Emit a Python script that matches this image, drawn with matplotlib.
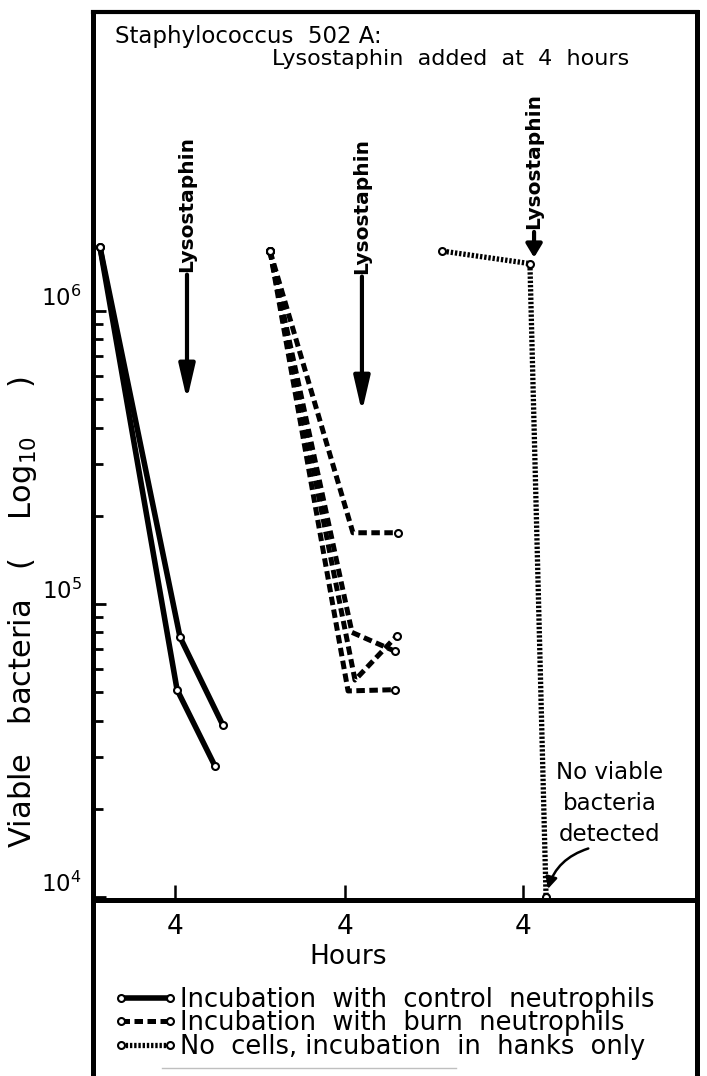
import matplotlib
matplotlib.use("Agg")
import matplotlib.pyplot as plt
from matplotlib.lines import Line2D
from matplotlib import ticker

plt.rcParams['font.family'] = ['DejaVu Sans']

# three panels on one time axis, each panel has its own clock
panel_offset = [0.0, 9.07, 18.56]
tick_hours = [4, 4, 4]
tick_labels = ['4', '4', '4']

# control neutrophils (panel 0)
ctrl_a_h = [0, 4.27, 6.56]
ctrl_a = [1.65e6, 7.7e4, 3.85e4]
ctrl_b_h = [0, 4.11, 6.13]
ctrl_b = [1.65e6, 5.1e4, 2.8e4]

# burn neutrophils (panel 1)
burn_a_h = [0, 4.42, 6.82]
burn_a = [1.6e6, 1.75e5, 1.75e5]
burn_b_h = [0, 4.37, 6.66]
burn_b = [1.6e6, 8.0e4, 6.9e4]
burn_c_h = [0, 4.53, 6.77]
burn_c = [1.6e6, 5.5e4, 7.8e4]
burn_d_h = [0, 4.16, 6.66]
burn_d = [1.6e6, 5.05e4, 5.1e4]

# no cells, hanks only (panel 2)
hanks_h = [-0.3, 4.37, 5.23]
hanks = [1.6e6, 1.45e6, 1.0e4]

# lysostaphin arrows per panel: hour, arrow tip, arrow tail
lyso_h = [4.64, 4.9, 4.59]
lyso_tip = [4.97e5, 4.52e5, 1.52e6]
lyso_tail = [1.33e6, 1.31e6, 1.86e6]

legend_labels = ['Incubation  with  control  neutrophils',
                 'Incubation  with  burn  neutrophils',
                 'No  cells, incubation  in  hanks  only']

solid = dict(color='k', lw=4, ls='-')
dashed = dict(color='k', lw=3.6, ls=(0, (1.7, 0.9)))
dotted = dict(color='k', lw=3.8, ls=(0, (0.45, 0.35)))
mk = dict(marker='o', ms=5, mfc='white', mec='k', mew=1.5)

fig = plt.figure(figsize=(7.07, 10.76), dpi=100)
ax = fig.add_axes([93 / 707, 1 - 900 / 1076, 604 / 707, 888 / 1076])

def shift(hours, panel):
    return [h + panel_offset[panel] for h in hours]

for h, v in [(ctrl_a_h, ctrl_a), (ctrl_b_h, ctrl_b)]:
    ax.plot(shift(h, 0), v, **solid, **mk)
for h, v in [(burn_a_h, burn_a), (burn_b_h, burn_b), (burn_c_h, burn_c), (burn_d_h, burn_d)]:
    ax.plot(shift(h, 1), v, markevery=[0, 2], **dashed, **mk)
ax.plot(shift(hanks_h, 2), hanks, clip_on=False, **dotted, **mk)

ax.set_yscale('log')
ax.set_ylim(9.77e3, 1.047e7)
ax.set_xlim(-0.373, 31.84)

ax.yaxis.set_major_locator(ticker.FixedLocator([1e4, 1e5, 1e6]))
ax.yaxis.set_minor_locator(ticker.FixedLocator([m * d for d in (1e4, 1e5) for m in range(2, 10)]))
ax.yaxis.set_minor_formatter(ticker.NullFormatter())
ax.set_yticklabels([r'$10^4$', r'$10^5$', r'$10^6$'])
for lbl in ax.get_yticklabels():
    lbl.set_verticalalignment('bottom')
ax.tick_params(axis='y', which='major', direction='in', length=9, width=2, labelsize=16.5, pad=8)
ax.tick_params(axis='y', which='minor', direction='in', length=7, width=2)

ax.set_xticks([t + o for t, o in zip(tick_hours, panel_offset)])
ax.set_xticklabels(tick_labels)
ax.tick_params(axis='x', direction='in', length=11, width=1.8, labelsize=19, pad=10)

for side in ['left', 'right', 'bottom']:
    ax.spines[side].set_linewidth(3.6)
ax.spines['top'].set_linewidth(3.0)

ax.set_ylabel(r'Viable   bacteria   (    Log$_{10}$     )', fontsize=22)
ax.yaxis.set_label_coords(-0.09, 0.324)
ax.set_xlabel('Hours', fontsize=19)
ax.xaxis.set_label_coords((348 - 93) / 604, -0.05)

# lysostaphin additions
for i in range(3):
    x = lyso_h[i] + panel_offset[i]
    big = i < 2
    ax.annotate('', xy=(x, lyso_tip[i]), xytext=(x, lyso_tail[i]),
                arrowprops=dict(arrowstyle='-|>,head_length=%s,head_width=%s' % ((0.95, 0.22) if big else (0.5, 0.3)),
                                lw=3, color='k', mutation_scale=22 if big else 16,
                                shrinkA=0, shrinkB=0))
    ax.annotate('Lysostaphin', xy=(x, lyso_tail[i]), xytext=(0, 2), textcoords='offset points',
                rotation=90, ha='center', va='bottom', fontsize=14.5, fontweight='bold')

ax.text(0.856, 0.109, 'No viable\nbacteria\ndetected', transform=ax.transAxes,
        ha='center', va='center', fontsize=16.5, linespacing=1.45)
ax.annotate('', xy=(hanks_h[2] + panel_offset[2], hanks[2]), xytext=(0.82, 0.058),
            textcoords='axes fraction',
            arrowprops=dict(arrowstyle='-|>,head_length=0.5,head_width=0.25', lw=1.8, color='k',
                            mutation_scale=14, shrinkA=0, shrinkB=6,
                            connectionstyle='arc3,rad=0.3'))

fig.text(115 / 707, 1 - 37 / 1076, 'Staphylococcus  502 A:', fontsize=16.5, va='center')
fig.text(272 / 707, 1 - 59 / 1076, 'Lysostaphin  added  at  4  hours', fontsize=16, va='center')

# box continues below the plot around the legend
for xp in (93, 697):
    fig.add_artist(Line2D([xp / 707, xp / 707], [0, 1 - 900 / 1076], transform=fig.transFigure,
                          color='k', lw=3.6))
fig.add_artist(Line2D([162 / 707, 456 / 707], [1 - 1068 / 1076] * 2, transform=fig.transFigure,
                      color='0.75', lw=1))

handles = [Line2D([], [], **solid, **mk), Line2D([], [], **dashed, **mk), Line2D([], [], **dotted, **mk)]
fig.legend(handles, legend_labels, loc='upper left', bbox_to_anchor=(113 / 707, 1 - 987 / 1076),
           frameon=False, fontsize=18.5, numpoints=2, handlelength=2.5, handletextpad=0.12,
           labelspacing=-0.1, borderpad=0, borderaxespad=0)

fig.savefig('out.png', dpi=100)
